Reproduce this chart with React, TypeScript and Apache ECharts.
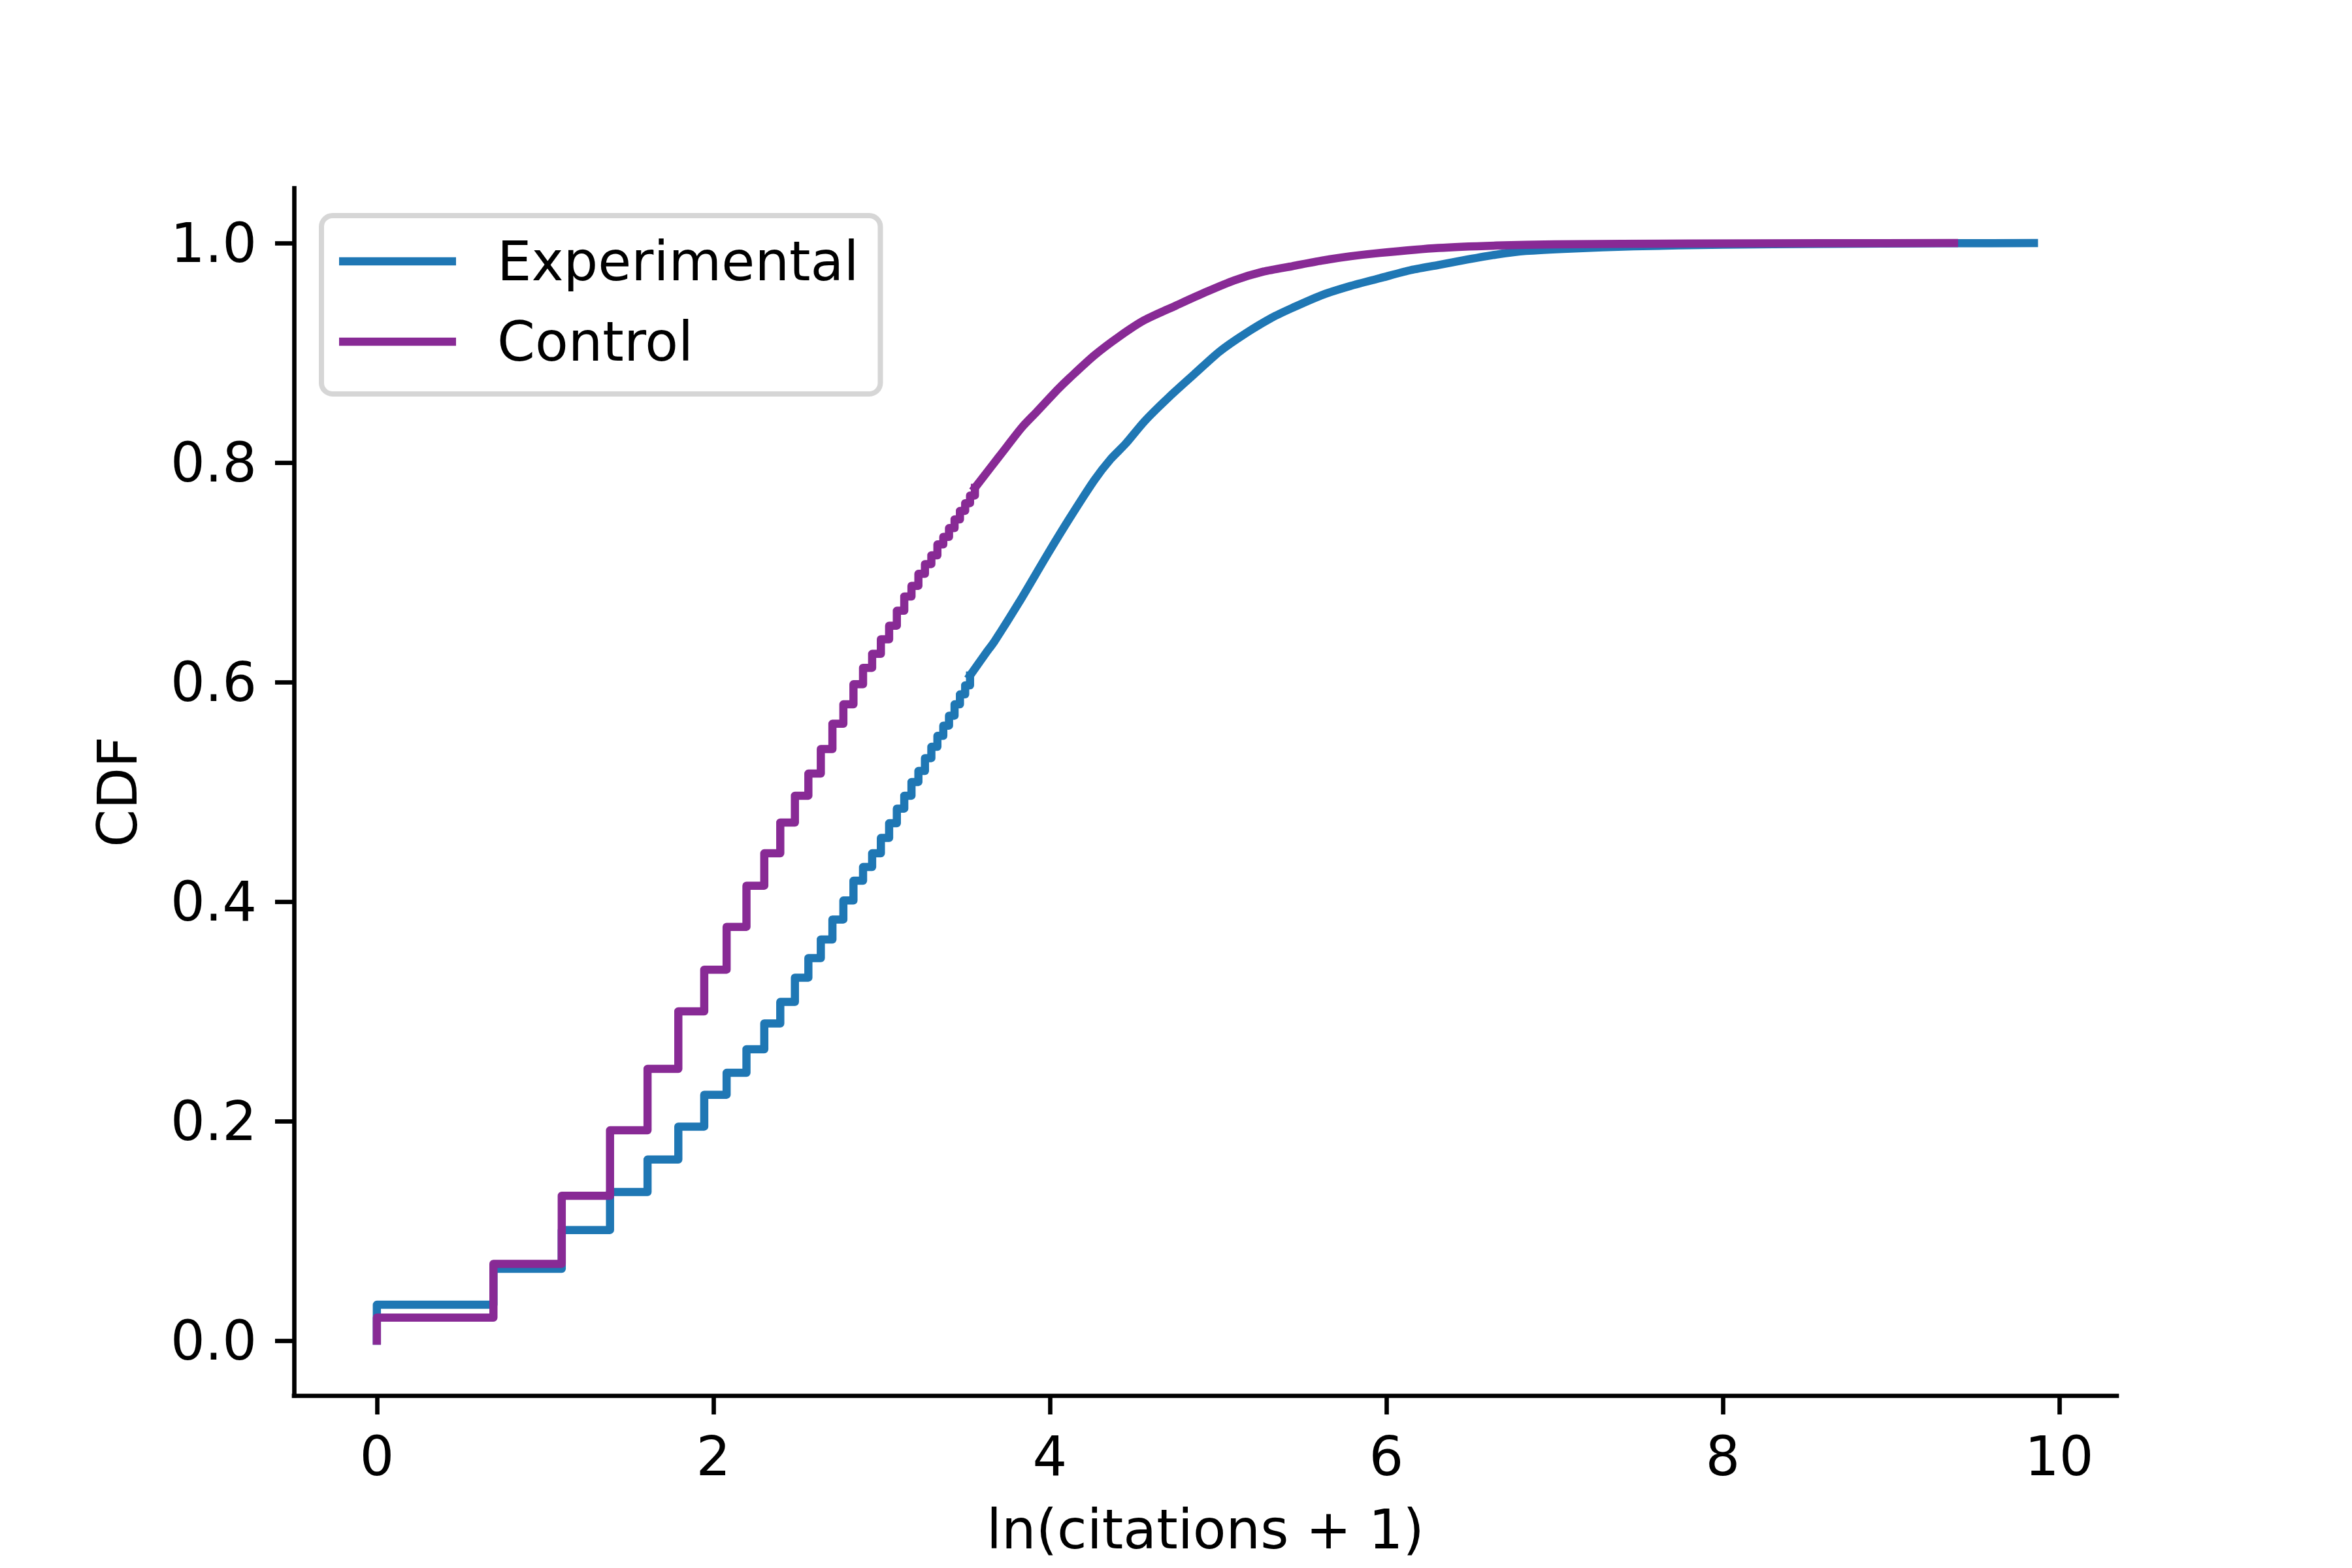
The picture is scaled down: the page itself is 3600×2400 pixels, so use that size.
import React, { useEffect, useRef } from "react";
import * as echarts from "echarts";

// ---- data ----
const seriesNames = ["Experimental", "Control"];
const xTicks = [0, 2, 4, 6, 8, 10];
const yTicks = [0, 0.2, 0.4, 0.6, 0.8, 1.0];

// Experimental: stepped part (post-step), then dense part
const expStep: number[][] = [
  [0, 0], [0, 0.0327], [0.693, 0.0655], [1.099, 0.1008], [1.386, 0.1354],
  [1.609, 0.165], [1.792, 0.195], [1.946, 0.224], [2.079, 0.244], [2.197, 0.2655],
  [2.303, 0.289], [2.398, 0.3086], [2.485, 0.3307], [2.565, 0.3485], [2.639, 0.3655],
  [2.708, 0.3837], [2.773, 0.401], [2.833, 0.419], [2.89, 0.4315], [2.944, 0.444],
  [2.996, 0.458], [3.045, 0.4714], [3.091, 0.4847], [3.135, 0.4965], [3.178, 0.509],
  [3.219, 0.519], [3.258, 0.5307], [3.296, 0.541], [3.332, 0.551], [3.367, 0.5603],
  [3.401, 0.5694], [3.434, 0.5797], [3.466, 0.5888], [3.497, 0.597], [3.526, 0.606],
];
const expDense: number[][] = [
  [3.526, 0.606], [3.623, 0.627], [3.671, 0.637], [3.819, 0.673], [3.985, 0.716],
  [4.117, 0.749], [4.265, 0.784], [4.361, 0.803], [4.45, 0.817], [4.562, 0.8374],
  [4.711, 0.86], [4.86, 0.8807], [5.008, 0.901], [5.157, 0.917], [5.32, 0.932],
  [5.443, 0.941], [5.616, 0.9525], [5.79, 0.961], [5.963, 0.968], [6.136, 0.975],
  [6.31, 0.98], [6.483, 0.985], [6.656, 0.9895], [6.83, 0.9928], [7.1, 0.995],
  [7.47, 0.997], [8.0, 0.9985], [8.6, 0.9993], [9.3, 0.9998], [9.85, 1.0],
];

// Control
const ctlStep: number[][] = [
  [0, 0], [0, 0.021], [0.693, 0.07], [1.099, 0.132], [1.386, 0.1916],
  [1.609, 0.2476], [1.792, 0.3], [1.946, 0.338], [2.079, 0.377], [2.197, 0.4145],
  [2.303, 0.444], [2.398, 0.472], [2.485, 0.4965], [2.565, 0.5166], [2.639, 0.539],
  [2.708, 0.562], [2.773, 0.5797], [2.833, 0.598], [2.89, 0.613], [2.944, 0.6257],
  [2.996, 0.639], [3.045, 0.6514], [3.091, 0.665], [3.135, 0.678], [3.178, 0.6877],
  [3.219, 0.6986], [3.258, 0.7075], [3.296, 0.7155], [3.332, 0.7254], [3.367, 0.7323],
  [3.401, 0.7403], [3.434, 0.7482], [3.466, 0.756], [3.497, 0.763], [3.526, 0.770],
  [3.555, 0.777],
];
const ctlDense: number[][] = [
  [3.555, 0.777], [3.745, 0.8146], [3.834, 0.832], [3.921, 0.846], [4.05, 0.867],
  [4.117, 0.877], [4.265, 0.8977], [4.414, 0.915], [4.562, 0.9297], [4.75, 0.943],
  [4.923, 0.955], [5.097, 0.966], [5.27, 0.974], [5.443, 0.979], [5.616, 0.984],
  [5.79, 0.988], [5.963, 0.991], [6.31, 0.9955], [6.656, 0.9977], [7.0, 0.9988],
  [7.8, 0.9995], [8.6, 0.9998], [9.375, 1.0],
];

const BLUE = "#1f77b4";
const PURPLE = "#882a95";
const FONT = "DejaVu Sans";
const FS = 83;
const LW = 12.5;
const SPINE = 6.67;

export default function App() {
  const ref = useRef<HTMLDivElement>(null);
  useEffect(() => {
    document.body.style.margin = "0";
    if (!ref.current) return;
    const chart = echarts.init(ref.current, null, { renderer: "svg", width: 3600, height: 2400 });
    const lineStyle = (color: string) => ({ color, width: LW, cap: "square", join: "round" });
    const mk = (name: string, data: number[][], color: string, step: boolean) => ({
      name,
      type: "line",
      data,
      step: step ? "end" : false,
      smooth: step ? false : 0.25,
      symbol: "none",
      showSymbol: false,
      lineStyle: lineStyle(color),
      itemStyle: { color },
      color,
      silent: true,
    });
    chart.setOption({
      animation: false,
      backgroundColor: "#ffffff",
      grid: { left: 450, right: 360, top: 288, bottom: 264, containLabel: false },
      legend: {
        data: seriesNames,
        orient: "vertical",
        left: 492,
        top: 330,
        padding: [20, 33, 30, 27],
        icon: "rect",
        itemWidth: 179,
        itemHeight: 12.5,
        itemGap: 23,
        backgroundColor: "#ffffff",
        borderColor: "#d6d6d6",
        borderWidth: 8,
        borderRadius: 17,
        itemStyle: { borderWidth: 0 },
        textStyle: {
          fontFamily: FONT,
          fontSize: FS,
          color: "#000000",
          lineHeight: 100,
          padding: [0, 0, 0, 58],
        },
      },
      xAxis: {
        type: "value",
        min: -0.4925,
        max: 10.3425,
        name: "ln(citations + 1)",
        nameLocation: "middle",
        nameGap: 164,
        nameTextStyle: { fontFamily: FONT, fontSize: FS, color: "#000000" },
        axisLine: { show: true, onZero: false, lineStyle: { color: "#000000", width: SPINE, cap: "square" } },
        axisTick: { show: true, inside: false, length: 29, customValues: xTicks, lineStyle: { color: "#000000", width: SPINE } },
        axisLabel: { customValues: xTicks, fontFamily: FONT, fontSize: FS, color: "#000000", margin: 52, formatter: (v: number) => String(v) },
        splitLine: { show: false },
      },
      yAxis: {
        type: "value",
        min: -0.05,
        max: 1.05,
        name: "CDF",
        nameLocation: "middle",
        nameRotate: 90,
        nameGap: 228,
        nameTextStyle: { fontFamily: FONT, fontSize: FS, color: "#000000" },
        axisLine: { show: true, onZero: false, lineStyle: { color: "#000000", width: SPINE, cap: "square" } },
        axisTick: { show: true, inside: false, length: 29, customValues: yTicks, lineStyle: { color: "#000000", width: SPINE } },
        axisLabel: { customValues: yTicks, fontFamily: FONT, fontSize: FS, color: "#000000", margin: 57, formatter: (v: number) => v.toFixed(1) },
        splitLine: { show: false },
      },
      series: [
        mk(seriesNames[0], expStep, BLUE, true),
        mk(seriesNames[0], expDense, BLUE, false),
        mk(seriesNames[1], ctlStep, PURPLE, true),
        mk(seriesNames[1], ctlDense, PURPLE, false),
      ],
    });
    return () => chart.dispose();
  }, []);
  return <div ref={ref} style={{ width: 3600, height: 2400 }} />;
}
